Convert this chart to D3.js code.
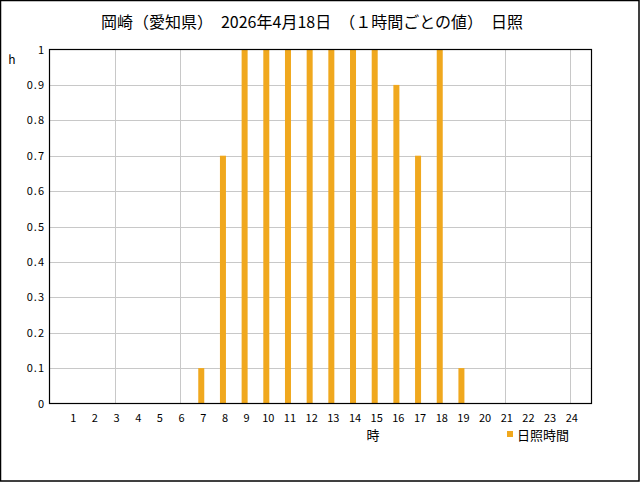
<!DOCTYPE html>
<html><head><meta charset="utf-8">
<script src="https://cdn.jsdelivr.net/npm/d3@7"></script>
<style>body{margin:0;background:#fff;}svg{display:block;}</style>
</head><body>
<svg id="c" width="640" height="482"></svg>
<script>
const hours = [1,2,3,4,5,6,7,8,9,10,11,12,13,14,15,16,17,18,19,20,21,22,23,24];
const sunshine = [0,0,0,0,0,0,0.1,0.7,1,1,1,1,1,1,1,0.9,0.7,1,0.1,0,0,0,0,0];
const yTicks = [0,0.1,0.2,0.3,0.4,0.5,0.6,0.7,0.8,0.9,1];
const xGrid = [3,6,9,12,15,18,21,24];
const title = "岡崎（愛知県）　2026年4月18日　（１時間ごとの値）　日照";
const seriesName = "日照時間";

const svg = d3.select("#c");
const font = "'Noto Sans CJK JP', 'DejaVu Sans', sans-serif";
const L = 49.5, T = 49.5, R = 591.5, B = 403.5;
const x = d3.scaleLinear().domain([0,25]).range([L,R]);
const y = d3.scaleLinear().domain([0,1]).range([B,T]);
const color = "#F0A81E";

svg.append("rect").attr("x",0.5).attr("y",0.5).attr("width",638.5).attr("height",480.5)
  .attr("fill","#fff").attr("stroke","#000").attr("stroke-width",1.5);

// grid
svg.append("g").selectAll("line").data(yTicks.slice(1,-1)).join("line")
  .attr("x1",L).attr("x2",R).attr("y1",d=>Math.round(y(d))+0.5).attr("y2",d=>Math.round(y(d))+0.5)
  .attr("stroke","#c8c8c8");
svg.append("g").selectAll("line").data(xGrid).join("line")
  .attr("y1",T).attr("y2",B).attr("x1",d=>Math.round(x(d))+0.5).attr("x2",d=>Math.round(x(d))+0.5)
  .attr("stroke","#c8c8c8");

// bars
svg.append("g").selectAll("rect").data(hours.map((h,i)=>({h,v:sunshine[i]})).filter(d=>d.v>0)).join("rect")
  .attr("x",d=>x(d.h)-3).attr("width",6)
  .attr("y",d=>y(d.v)).attr("height",d=>y(0)-y(d.v))
  .attr("fill",color);

// frame
svg.append("rect").attr("x",L).attr("y",T).attr("width",R-L).attr("height",B-T)
  .attr("fill","none").attr("stroke","#000").attr("stroke-width",1.2);

// y labels
svg.append("g").selectAll("text").data(yTicks).join("text")
  .attr("x",45).attr("y",d=>y(d)+4).attr("text-anchor","end")
  .attr("font-family",font).attr("font-size",11).attr("letter-spacing","1px").attr("fill","#000")
  .text(d=>d===0||d===1?String(d):d.toFixed(1));
svg.append("text").attr("x",12).attr("y",64).attr("text-anchor","middle")
  .attr("font-family",font).attr("font-size",12).text("h");

// x labels
svg.append("g").selectAll("text").data(hours).join("text")
  .attr("x",d=>x(d)+2).attr("y",422).attr("text-anchor","middle")
  .attr("font-family",font).attr("font-size",11).attr("fill","#000")
  .text(d=>d);
svg.append("text").attr("x",373).attr("y",440).attr("text-anchor","middle")
  .attr("font-family",font).attr("font-size",13).text("時");

// legend
svg.append("rect").attr("x",507).attr("y",431).attr("width",6).attr("height",6).attr("fill",color);
svg.append("text").attr("x",517).attr("y",440)
  .attr("font-family",font).attr("font-size",13).text(seriesName);

// title
svg.append("text").attr("x",312).attr("y",28).attr("text-anchor","middle")
  .attr("font-family",font).attr("font-size",16).text(title);
</script>
</body></html>
